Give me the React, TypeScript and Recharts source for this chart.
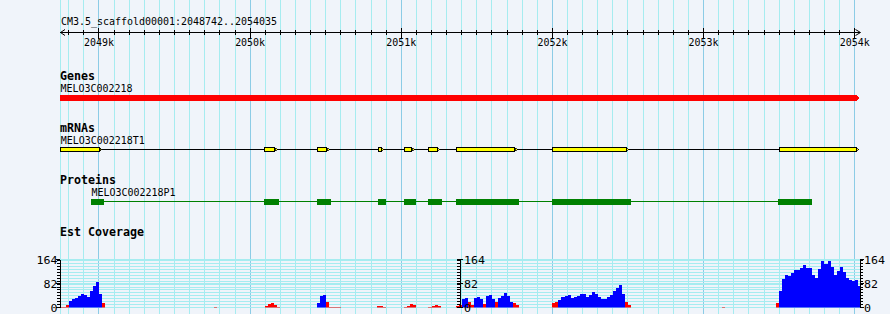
import React from 'react';
import { ComposedChart, XAxis, YAxis, Area, ReferenceArea, ReferenceLine, CartesianGrid } from 'recharts';

// ---------------- data ----------------
const SEQ_NAME = 'CM3.5_scaffold00001';
const VIEW_START = 2048742;
const VIEW_END = 2054035;
const RULER_MAJOR = [2049000, 2050000, 2051000, 2052000, 2053000, 2054000];
const RULER_LABELS = ['2049k', '2050k', '2051k', '2052k', '2053k', '2054k'];
const RULER_MINOR_STEP = 100;

const GENE_NAME = 'MELO3C002218';
const GENE_START = 2048742;
const GENE_END = 2054035;

const MRNA_NAME = 'MELO3C002218T1';
const EXON_STARTS = [2048744, 2050094, 2050444, 2050848, 2051020, 2051178, 2051364, 2051999, 2053497];
const EXON_ENDS = [2049007, 2050166, 2050510, 2050872, 2051073, 2051241, 2051754, 2052491, 2054013];

const PROTEIN_NAME = 'MELO3C002218P1';
const CDS_STARTS = [2048947, 2050092, 2050442, 2050846, 2051018, 2051177, 2051362, 2051999, 2053492];
const CDS_ENDS = [2049033, 2050191, 2050535, 2050899, 2051097, 2051269, 2051777, 2052520, 2053717];

const COV_TITLE = 'Est Coverage';
const COV_MAX = 164;
const COV_LABELS = [0, 82, 164];
const COV_GRID_STEP = 10;
const COV_BIN = 20;
const COV_FIRST_BIN = 2048740;
const BLUE_RUNS: [number, number[]][] = [
  [2048800, [22, 30, 32, 40, 45, 42, 36, 55, 75, 86, 45]],
  [2050440, [16, 38, 42]],
  [2051400, [30, 34]],
  [2051480, [33, 36, 28]],
  [2051560, [38, 44, 30]],
  [2051640, [32, 40, 50, 40, 20]],
  [2052040, [25, 36, 41, 42, 33, 35, 41, 47, 45, 36, 44, 52, 46, 36, 28, 30, 35, 42, 55, 66, 76, 45]],
  [2053500, [55, 98, 112, 108, 119, 127, 127, 134, 145, 136, 135, 110, 101, 130, 160, 150, 160, 138, 112, 125, 138, 120, 100, 95, 92, 95, 72]],
];
const RED_RUNS: [number, number[]][] = [
  [2048740, [2, 2, 8]],
  [2049020, [14]],
  [2049760, [2]],
  [2050100, [5, 12, 16, 10, 3]],
  [2050500, [18, 3, 3, 3, 3]],
  [2050840, [4, 6, 3]],
  [2051020, [2, 6, 12, 7]],
  [2051180, [3, 6, 9, 5]],
  [2051360, [4, 9]],
  [2051440, [19, 8]],
  [2051540, [13]],
  [2051620, [19]],
  [2051740, [17, 8]],
  [2052000, [17, 20]],
  [2052480, [19, 8]],
  [2053120, [2]],
  [2053480, [14]],
];

// ---------------- derived tables ----------------
type CovRow = { pos: number; blue: number; red: number };
const covData: CovRow[] = [];
for (let p = COV_FIRST_BIN; p <= VIEW_END + COV_BIN; p += COV_BIN) covData.push({ pos: p, blue: 0, red: 0 });
const fillRuns = (runs: [number, number[]][], key: 'blue' | 'red') =>
  runs.forEach(([s, vals]) =>
    vals.forEach((v, i) => {
      const idx = (s - COV_FIRST_BIN) / COV_BIN + i;
      if (covData[idx]) covData[idx][key] = v;
    })
  );
fillRuns(BLUE_RUNS, 'blue');
fillRuns(RED_RUNS, 'red');

const rulerTicks: number[] = [];
for (let t = Math.ceil(VIEW_START / RULER_MINOR_STEP) * RULER_MINOR_STEP; t <= VIEW_END; t += RULER_MINOR_STEP) rulerTicks.push(t);

const covTicks: number[] = [];
for (let v = 0; v <= COV_MAX; v += COV_GRID_STEP) covTicks.push(v);
COV_LABELS.forEach((v) => { if (!covTicks.includes(v)) covTicks.push(v); });
covTicks.sort((a, b) => a - b);

// ---------------- layout / style ----------------
const W = 890;
const H = 314;
const LEFT = 60;
const RIGHT = 30;
const PLOT_W = W - LEFT - RIGHT;
const MID_X = LEFT + PLOT_W / 2;
const COV_TOP = 259.5;
const COV_BOTTOM = 307.5;
const BG = '#f0f4fa';
const GRID_MINOR = '#a6ecf0';
const GRID_MAJOR = '#8ccce6';
const RED = '#ff0000';
const BLUE = '#0000ff';
const YELLOW = '#ffff00';
const GREEN = '#008000';
const FONT = "'DejaVu Sans Mono', monospace";

const bpToPx = (bp: number) => LEFT + ((bp - VIEW_START) / (VIEW_END - VIEW_START)) * PLOT_W;
const margin = { top: 0, right: RIGHT, bottom: 0, left: LEFT };

const Txt = ({ x, y, text, bold = false, size = 11, adv = 6, anchor = 'start' }: any) => (
  <text
    x={x}
    y={y}
    fontFamily={FONT}
    fontSize={size}
    fontWeight={bold ? 'bold' : 'normal'}
    textAnchor={anchor}
    textLength={String(text).length * adv}
    lengthAdjust="spacingAndGlyphs"
    fill="#000"
  >
    {text}
  </text>
);

const xAxisProps = {
  dataKey: 'pos',
  type: 'number' as const,
  domain: [VIEW_START, VIEW_END],
  allowDataOverflow: true,
};

// ---------------- custom shapes ----------------
const geneShape = (p: any) => {
  const { x, y, width, height } = p;
  const tip = 4;
  return (
    <polygon
      points={`${x},${y} ${x + width - tip},${y} ${x + width},${y + height / 2} ${x + width - tip},${y + height} ${x},${y + height}`}
      fill={RED}
    />
  );
};

const intronShape = (p: any) => {
  const { x, y, width } = p;
  return <line x1={x} x2={x + width} y1={y + 2.5} y2={y + 2.5} stroke="#000" strokeWidth={1} />;
};

const exonShape = (p: any) => {
  const { x, y, width, height } = p;
  const m = y + height / 2;
  return (
    <g>
      <rect x={x + 0.5} y={y + 0.5} width={Math.max(width - 1, 1)} height={height - 1} fill={YELLOW} stroke="#000" strokeWidth={1} />
      <polygon points={`${x + width},${m - 1.5} ${x + width + 2},${m} ${x + width},${m + 1.5}`} fill={YELLOW} stroke="#000" strokeWidth={0.7} />
    </g>
  );
};

const cdsLineShape = (p: any) => {
  const { x, y, width } = p;
  return <line x1={x} x2={x + width} y1={y + 2.5} y2={y + 2.5} stroke={GREEN} strokeWidth={1} />;
};

const cdsShape = (p: any) => {
  const { x, y, width, height } = p;
  return <rect x={x} y={y} width={Math.max(width, 1)} height={height} fill={GREEN} />;
};

// ---------------- ticks ----------------
const RulerTick = (props: any) => {
  const { x, y, payload } = props;
  const v = payload.value;
  const i = RULER_MAJOR.indexOf(v);
  if (i >= 0) {
    return (
      <g>
        <line x1={x} x2={x} y1={y - 5} y2={y + 6} stroke="#000" />
        <Txt x={x} y={y + 13} text={RULER_LABELS[i]} anchor="middle" />
      </g>
    );
  }
  return <line x1={x} x2={x} y1={y - 3} y2={y + 2} stroke="#000" />;
};

const makeCovTick = (side: 'left' | 'right' | 'mid') => (props: any) => {
  const { x, y, payload } = props;
  const v = payload.value;
  const major = COV_LABELS.includes(v);
  let tick: React.ReactNode;
  let label: React.ReactNode = null;
  if (side === 'left') {
    tick = <line x1={x - (major ? 4 : 3)} x2={x} y1={y} y2={y} stroke="#000" />;
    if (major) label = <Txt x={x - 2.5} y={y + 4} text={String(v)} anchor="end" adv={7} />;
  } else if (side === 'right') {
    tick = <line x1={x} x2={x + (major ? 4 : 3)} y1={y} y2={y} stroke="#000" />;
    if (major) label = <Txt x={x + 4} y={y + 4} text={String(v)} adv={7} />;
  } else {
    tick = <line x1={x - 3} x2={x + (major ? 3 : 0)} y1={y} y2={y} stroke="#000" />;
    if (major) label = <Txt x={x + 4} y={y + 4} text={String(v)} adv={7} />;
  }
  return (
    <g>
      {tick}
      {label}
    </g>
  );
};

const covYAxisCommon = {
  domain: [0, COV_MAX],
  ticks: covTicks,
  interval: 0 as const,
  tickSize: 0,
  tickMargin: 0,
  tickLine: false,
  axisLine: { stroke: '#000' },
  allowDataOverflow: true,
};

// ---------------- track helper ----------------
const trackChart = (height: number, children: React.ReactNode) => (
  <ComposedChart width={W} height={height} data={covData} margin={margin}>
    <XAxis {...xAxisProps} hide height={0} />
    <YAxis hide width={0} type="number" domain={[0, 1]} allowDataOverflow />
    {children}
  </ComposedChart>
);

const abs = (top: number): React.CSSProperties => ({ position: 'absolute', left: 0, top });

export default function App() {
  return (
    <div className="cr" style={{ position: 'fixed', left: 0, top: 0, width: W, height: H, background: BG, overflow: 'hidden' }}>
      <style>{`.cr svg line, .cr svg rect, .cr svg path, .cr svg polygon { shape-rendering: crispEdges; }`}</style>

      {/* vertical grid */}
      <div style={abs(0)}>
        <ComposedChart width={W} height={H} data={covData} margin={margin}>
          <XAxis {...xAxisProps} hide height={0} />
          <YAxis hide width={0} type="number" domain={[0, 1]} allowDataOverflow />
          <ReferenceLine x={VIEW_START} stroke={GRID_MINOR} ifOverflow="visible" />
          {rulerTicks.map((t) => (
            <ReferenceLine key={t} x={t} stroke={RULER_MAJOR.includes(t) ? GRID_MAJOR : GRID_MINOR} ifOverflow="visible" />
          ))}
        </ComposedChart>
      </div>

      {/* coverage */}
      <div style={abs(0)}>
        <ComposedChart width={W} height={H} data={covData} margin={{ top: COV_TOP, right: 0, bottom: H - COV_BOTTOM, left: 0 }}>
          <CartesianGrid yAxisId="l" horizontal vertical={false} stroke={GRID_MINOR} />
          <XAxis {...xAxisProps} hide height={0} />
          <YAxis yAxisId="l" orientation="left" width={LEFT} {...covYAxisCommon} tick={makeCovTick('left')} />
          <YAxis yAxisId="r" orientation="right" width={RIGHT} {...covYAxisCommon} tick={makeCovTick('right')} />
          <Area yAxisId="l" type="stepAfter" dataKey="red" fill={RED} fillOpacity={1} stroke="none" dot={false} activeDot={false} isAnimationActive={false} />
          <Area yAxisId="l" type="stepAfter" dataKey="blue" fill={BLUE} fillOpacity={1} stroke="none" dot={false} activeDot={false} isAnimationActive={false} />
        </ComposedChart>
      </div>
      <div style={abs(0)}>
        <ComposedChart width={W} height={H} data={covData} margin={{ top: COV_TOP, right: 0, bottom: H - COV_BOTTOM, left: 0 }}>
          <XAxis {...xAxisProps} hide height={0} />
          <YAxis yAxisId="m" orientation="left" width={MID_X} {...covYAxisCommon} tick={makeCovTick('mid')} />
        </ComposedChart>
      </div>

      {/* ruler */}
      <div style={abs(0)}>
        <ComposedChart width={W} height={60} data={covData} margin={margin}>
          <XAxis
            {...xAxisProps}
            ticks={rulerTicks}
            interval={0}
            height={27.5}
            tickSize={0}
            tickMargin={0}
            tickLine={false}
            axisLine={{ stroke: '#000' }}
            tick={(p: any) => <RulerTick {...p} />}
          />
          <YAxis hide width={0} type="number" domain={[0, 1]} allowDataOverflow />
        </ComposedChart>
      </div>

      {/* genes */}
      <div style={abs(95)}>
        {trackChart(6, <ReferenceArea x1={GENE_START} x2={GENE_END} shape={geneShape} ifOverflow="visible" />)}
      </div>

      {/* mRNAs */}
      <div style={abs(147)}>
        {trackChart(
          5,
          [
            <ReferenceArea key="intron" x1={EXON_STARTS[0]} x2={EXON_ENDS[EXON_ENDS.length - 1]} shape={intronShape} ifOverflow="visible" />,
            ...EXON_STARTS.map((s, i) => (
              <ReferenceArea key={'e' + i} x1={s} x2={EXON_ENDS[i]} shape={exonShape} ifOverflow="visible" />
            )),
          ]
        )}
      </div>

      {/* proteins */}
      <div style={abs(199)}>
        {trackChart(
          6,
          [
            <ReferenceArea key="pl" x1={CDS_STARTS[0]} x2={CDS_ENDS[CDS_ENDS.length - 1]} shape={cdsLineShape} ifOverflow="visible" />,
            ...CDS_STARTS.map((s, i) => (
              <ReferenceArea key={'c' + i} x1={s} x2={CDS_ENDS[i]} shape={cdsShape} ifOverflow="visible" />
            )),
          ]
        )}
      </div>

      {/* text overlay */}
      <svg width={W} height={H} style={{ position: 'absolute', left: 0, top: 0 }}>
        <polyline points={`${LEFT + 5},29.5 ${LEFT + 0.5},32.5 ${LEFT + 5},35.5`} fill="none" stroke="#000" />
        <polyline points={`${LEFT + PLOT_W - 4.5},29.5 ${LEFT + PLOT_W + 0.5},32.5 ${LEFT + PLOT_W - 4.5},35.5`} fill="none" stroke="#000" />
        <Txt x={61} y={25} text={`${SEQ_NAME}:${VIEW_START}..${VIEW_END}`} />
        <Txt x={60} y={80} text="Genes" bold size={11.5} adv={7} />
        <Txt x={bpToPx(GENE_START) + 0.5} y={92} text={GENE_NAME} />
        <Txt x={60} y={132} text="mRNAs" bold size={11.5} adv={7} />
        <Txt x={bpToPx(EXON_STARTS[0]) + 0.5} y={144} text={MRNA_NAME} />
        <Txt x={60} y={184} text="Proteins" bold size={11.5} adv={7} />
        <Txt x={bpToPx(CDS_STARTS[0]) + 0.5} y={196} text={PROTEIN_NAME} />
        <Txt x={60} y={235.5} text={COV_TITLE} bold size={11.5} adv={7} />
      </svg>
    </div>
  );
}
